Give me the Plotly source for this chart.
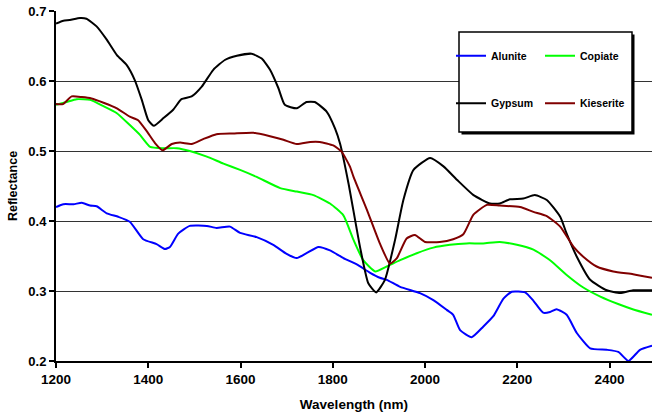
import plotly.graph_objects as go

# ---- data ----
alunite_nm = [1200, 1216, 1238, 1256, 1274, 1288, 1310, 1335, 1360, 1389, 1418, 1436, 1447, 1465, 1490,
              1527, 1548, 1577, 1599, 1635, 1671, 1700, 1722, 1743, 1769, 1794, 1823, 1852, 1881, 1902,
              1917, 1946, 1989, 2018, 2047, 2061, 2076, 2101, 2126, 2148, 2170, 2188, 2217, 2235, 2256,
              2271, 2285, 2307, 2329, 2358, 2394, 2419, 2441, 2466, 2492]
alunite_r = [0.420, 0.424, 0.424, 0.426, 0.422, 0.421, 0.411, 0.406, 0.399, 0.374, 0.367, 0.360, 0.363, 0.382, 0.393,
             0.393, 0.390, 0.392, 0.383, 0.377, 0.366, 0.353, 0.347, 0.354, 0.363, 0.358, 0.347, 0.338, 0.326, 0.319,
             0.316, 0.306, 0.297, 0.287, 0.273, 0.266, 0.244, 0.234, 0.249, 0.264, 0.289, 0.299, 0.298, 0.286, 0.269,
             0.270, 0.274, 0.266, 0.240, 0.218, 0.216, 0.213, 0.200, 0.216, 0.222]

copiate_nm = [1200, 1223, 1245, 1274, 1303, 1332, 1360, 1382, 1404, 1433, 1462, 1490, 1527, 1563, 1599,
              1635, 1686, 1722, 1758, 1794, 1823, 1845, 1866, 1892, 1917, 1946, 1982, 2018, 2054, 2090,
              2126, 2162, 2199, 2235, 2271, 2307, 2343, 2380, 2420, 2450, 2492]
copiate_r = [0.566, 0.570, 0.574, 0.573, 0.564, 0.554, 0.537, 0.523, 0.506, 0.504, 0.504, 0.500, 0.492, 0.482, 0.473,
             0.463, 0.447, 0.442, 0.437, 0.425, 0.408, 0.373, 0.344, 0.328, 0.335, 0.344, 0.354, 0.362, 0.366, 0.368,
             0.368, 0.370, 0.366, 0.359, 0.344, 0.323, 0.305, 0.292, 0.281, 0.274, 0.266]

gypsum_nm = [1200, 1216, 1230, 1252, 1266, 1288, 1310, 1332, 1353, 1371, 1386, 1400, 1412, 1433, 1454,
             1472, 1494, 1516, 1541, 1566, 1592, 1624, 1646, 1664, 1682, 1696, 1722, 1743, 1761, 1787,
             1805, 1816, 1834, 1859, 1877, 1894, 1913, 1935, 1953, 1975, 2011, 2040, 2069, 2105, 2141,
             2162, 2184, 2213, 2238, 2264, 2293, 2307, 2329, 2358, 2394, 2423, 2451, 2492]
gypsum_r = [0.682, 0.686, 0.687, 0.690, 0.689, 0.678, 0.659, 0.637, 0.623, 0.601, 0.573, 0.544, 0.536, 0.547, 0.559,
            0.574, 0.578, 0.592, 0.616, 0.630, 0.636, 0.639, 0.632, 0.616, 0.590, 0.566, 0.561, 0.570, 0.570, 0.556,
            0.532, 0.510, 0.454, 0.363, 0.311, 0.298, 0.316, 0.373, 0.430, 0.473, 0.490, 0.478, 0.459, 0.437, 0.425,
            0.425, 0.431, 0.432, 0.437, 0.430, 0.406, 0.382, 0.349, 0.316, 0.301, 0.297, 0.301, 0.301]

kieserite_nm = [1200, 1215, 1234, 1256, 1277, 1303, 1332, 1360, 1378, 1397, 1415, 1431, 1451, 1469, 1494,
                1519, 1548, 1584, 1628, 1664, 1693, 1722, 1751, 1772, 1801, 1819, 1837, 1845, 1874, 1902,
                1924, 1939, 1960, 1978, 2000, 2032, 2061, 2083, 2105, 2134, 2162, 2206, 2235, 2264, 2293,
                2322, 2343, 2372, 2408, 2451, 2492]
kieserite_r = [0.567, 0.567, 0.578, 0.577, 0.575, 0.569, 0.561, 0.549, 0.544, 0.528, 0.511, 0.501, 0.510, 0.512, 0.510,
               0.517, 0.524, 0.525, 0.526, 0.521, 0.516, 0.510, 0.513, 0.513, 0.508, 0.499, 0.478, 0.463, 0.416, 0.368,
               0.339, 0.347, 0.375, 0.380, 0.370, 0.370, 0.374, 0.381, 0.409, 0.423, 0.422, 0.420, 0.413, 0.407, 0.392,
               0.363, 0.349, 0.335, 0.328, 0.324, 0.319]

x_ticks = [1200, 1400, 1600, 1800, 2000, 2200, 2400]
y_ticks = [0.2, 0.3, 0.4, 0.5, 0.6, 0.7]

FONT = "Liberation Sans, Arial, sans-serif"

# plot area in pixels
W, H = 652, 418
L, R, T, B = 56, 0, 11, 57
PW, PH = W - L - R, H - T - B


def px_x(p):
    return (p - L) / PW


def px_y(p):
    return (H - B - p) / PH


fig = go.Figure()
series = [
    ("Alunite", alunite_nm, alunite_r, "#0000FF", "legend"),
    ("Copiate", copiate_nm, copiate_r, "#00FF00", "legend"),
    ("Gypsum", gypsum_nm, gypsum_r, "#000000", "legend2"),
    ("Kieserite", kieserite_nm, kieserite_r, "#800000", "legend2"),
]
for name, xs, ys, col, lg in series:
    fig.add_trace(go.Scatter(x=xs, y=ys, mode="lines", name=name, legend=lg,
                             line=dict(color=col, width=2, shape="spline", smoothing=0.5)))

# legend box with shadow
bx0, bx1, by0, by1 = 459, 632, 32, 132
fig.add_shape(type="rect", xref="paper", yref="paper", layer="above",
              x0=px_x(bx0 + 2.5), x1=px_x(bx1 + 2.5), y0=px_y(by1 + 2.5), y1=px_y(by0 + 2.5),
              fillcolor="black", line=dict(width=0))
fig.add_shape(type="rect", xref="paper", yref="paper", layer="above",
              x0=px_x(bx0), x1=px_x(bx1), y0=px_y(by1), y1=px_y(by0),
              fillcolor="white", line=dict(color="black", width=1.5))

leg_common = dict(orientation="h", xanchor="left", yanchor="middle",
                  bgcolor="rgba(0,0,0,0)", borderwidth=0,
                  font=dict(family=FONT, size=10.5, color="black", weight="bold"),
                  entrywidth=44, entrywidthmode="pixels", itemwidth=30)

fig.update_layout(
    width=W, height=H, autosize=False,
    margin=dict(l=L, r=R, t=T, b=B, pad=0),
    paper_bgcolor="white", plot_bgcolor="white",
    font=dict(family=FONT, color="black"),
    showlegend=True,
    legend=dict(x=px_x(451), y=px_y(55.7), **leg_common),
    legend2=dict(x=px_x(451), y=px_y(103.3), **leg_common),
    xaxis=dict(range=[1200, 2492], tickvals=x_ticks, ticks="outside", ticklen=5, tickwidth=2,
               tickcolor="black", showline=True, linewidth=2, linecolor="black", showgrid=False,
               zeroline=False,
               tickfont=dict(family=FONT, size=13.5, color="black", weight="bold"),
               title=dict(text="Wavelength (nm)", standoff=13,
                          font=dict(family=FONT, size=13.5, color="black", weight="bold"))),
    yaxis=dict(range=[0.2, 0.7], tickvals=y_ticks, tickformat=".1f", ticks="outside", ticklen=5,
               tickwidth=2, tickcolor="black", showline=True, linewidth=2, linecolor="black",
               showgrid=True, gridcolor="#333333", gridwidth=1, zeroline=False,
               tickfont=dict(family=FONT, size=13, color="black", weight="bold"),
               title=dict(text="Reflectance", standoff=8,
                          font=dict(family=FONT, size=12.5, color="black", weight="bold"))),
)

fig.write_html("out.html")
